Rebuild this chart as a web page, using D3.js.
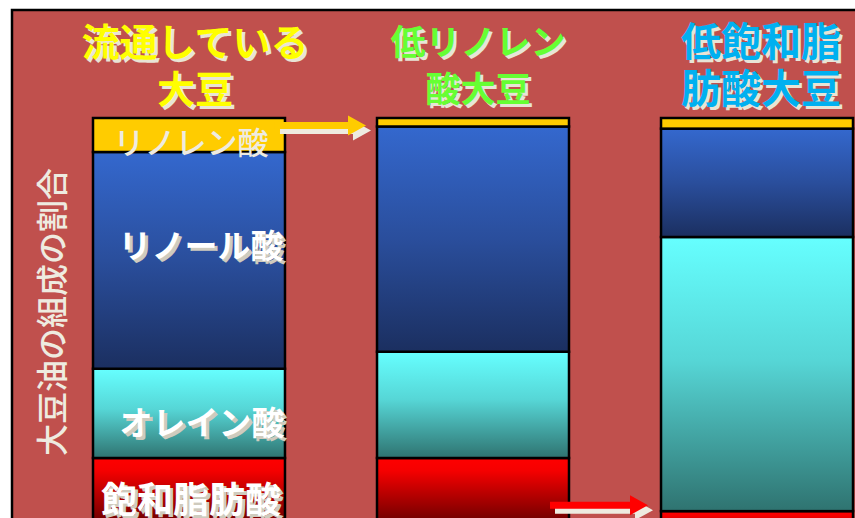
<!DOCTYPE html>
<html>
<head>
<meta charset="utf-8">
<script src="https://cdn.jsdelivr.net/npm/d3@7/dist/d3.min.js"></script>
<style>
  html, body { margin: 0; padding: 0; background: #ffffff; }
  svg { display: block; }
  text { font-family: "Noto Sans CJK JP", "Noto Sans", sans-serif; }
</style>
</head>
<body>
<svg id="chart" width="855" height="518"></svg>
<script>
// Soybean varieties (columns) and their title lines
const varieties = ["流通している大豆", "低リノレン酸大豆", "低飽和脂肪酸大豆"];
const titleLines = [["流通している", "大豆"], ["低リノレン", "酸大豆"], ["低飽和脂", "肪酸大豆"]];
const titleColors = ["#FFFF00", "#66FF33", "#00B0F0"];
const titleSizes = [38, 35, 40];

// Fatty acids, stacked from the bottom up
const acids = ["飽和脂肪酸", "オレイン酸", "リノール酸", "リノレン酸"];

// Composition (%) per variety, in the same order as `acids`
const saturated  = [20, 20, 7.5];
const oleic      = [21, 25, 64.5];
const linoleic   = [51, 53, 25.5];
const linolenic  = [8, 2, 2.5];

const yLabel = "大豆油の組成の割合";

const rows = varieties.map((v, i) => ({
  variety: v,
  "飽和脂肪酸": saturated[i],
  "オレイン酸": oleic[i],
  "リノール酸": linoleic[i],
  "リノレン酸": linolenic[i]
}));

const svg = d3.select("#chart");

// Panel background
svg.append("rect")
  .attr("x", 12).attr("y", 10)
  .attr("width", 860).attr("height", 530)
  .attr("fill", "#C0504D")
  .attr("stroke", "#000").attr("stroke-width", 2.5);

// Gradients for each fatty acid band
const defs = svg.append("defs");
const gradSpec = {
  "リノレン酸": [[0, "#FFCC00"], [1, "#FFCC00"]],
  "リノール酸": [[0, "#3468CE"], [0.5, "#2A4E9C"], [1, "#1B2F60"]],
  "オレイン酸": [[0, "#66FFFF"], [0.45, "#56D6D6"], [1, "#2F7370"]],
  "飽和脂肪酸": [[0, "#FF0000"], [0.15, "#F50000"], [0.7, "#7A0000"], [1, "#5A0000"]]
};
acids.forEach((a, i) => {
  const g = defs.append("linearGradient")
    .attr("id", "g" + i)
    .attr("x1", 0).attr("y1", 0).attr("x2", 0).attr("y2", 1);
  gradSpec[a].forEach(([o, c]) => g.append("stop").attr("offset", o).attr("stop-color", c));
});

// Scales
const x = d3.scaleBand().domain(varieties).range([93, 853]).paddingInner(0.324).paddingOuter(0);
const y = d3.scaleLinear().domain([0, 100]).range([543, 118]);

const stack = d3.stack().keys(acids)(rows);

// Stacked bars
const layers = svg.append("g").selectAll("g")
  .data(stack).join("g")
  .attr("fill", (d, i) => `url(#g${i})`);

layers.selectAll("rect")
  .data(d => d)
  .join("rect")
  .attr("x", d => x(d.data.variety))
  .attr("width", x.bandwidth())
  .attr("y", d => y(d[1]))
  .attr("height", d => y(d[0]) - y(d[1]))
  .attr("stroke", "#000")
  .attr("stroke-width", 2.5);

// Text with a soft offset shadow
function shadowText(g, txt, cx, cy, opts) {
  const s = g.append("g");
  const base = t => t.attr("x", cx).attr("y", cy)
    .attr("text-anchor", "middle").attr("dominant-baseline", "central")
    .attr("font-size", opts.size).attr("font-weight", opts.weight || 700)
    .text(txt);
  if (opts.shadow) {
    base(s.append("text")).attr("transform", `translate(${opts.off || 3},${opts.off || 3})`)
      .attr("fill", opts.shadow);
  }
  base(s.append("text")).attr("fill", opts.fill);
}

const labels = svg.append("g");

// Column titles
varieties.forEach((v, i) => {
  const cx = x(v) + x.bandwidth() / 2;
  const dx = [6, 5, 4][i];
  titleLines[i].forEach((line, j) => {
    shadowText(labels, line, cx + dx, [39, 86][j], {
      size: titleSizes[i], fill: titleColors[i], shadow: "#E8E4D6", off: 3
    });
  });
});

// Band labels on the first column
const first = varieties[0];
const bx = x(first) + x.bandwidth() / 2;
const row0 = stack.map(l => l[0]);
const mid = d => (y(d[0]) + y(d[1])) / 2;

// Linolenic label (regular weight, spills over the band)
labels.append("text")
  .attr("x", bx + 2).attr("y", mid(row0[3]) + 5)
  .attr("text-anchor", "middle").attr("dominant-baseline", "central")
  .attr("font-size", 31).attr("font-weight", 500)
  .attr("fill", "#EEEBE0")
  .text(acids[3]);

shadowText(labels, acids[2], bx + 12, mid(row0[2]) - 16, { size: 33, fill: "#FFFFFF", shadow: "#CFCBBE", off: 3 });
shadowText(labels, acids[1], bx + 13, mid(row0[1]) + 8, { size: 33, fill: "#FFFFFF", shadow: "#CFCBBE", off: 3 });
shadowText(labels, acids[0], bx + 2, y(row0[0][1]) + 39, { size: 36, fill: "#FFFFFF", shadow: "#CFCBBE", off: 3 });

// Y axis title
svg.append("text")
  .attr("transform", `translate(50, 312) rotate(-90)`)
  .attr("text-anchor", "middle").attr("dominant-baseline", "central")
  .attr("font-size", 32).attr("font-weight", 500).attr("fill", "#EEEBE0")
  .text(yLabel);

// Arrows pointing to the reduced fatty acid in each new variety
function arrow(x0, x1, yc, color) {
  const g = svg.append("g");
  const hl = 18, sw = 3.5, hw = 10;
  const d = `M${x0},${yc - sw} L${x1 - hl},${yc - sw} L${x1 - hl},${yc - hw} L${x1},${yc} ` +
            `L${x1 - hl},${yc + hw} L${x1 - hl},${yc + sw} L${x0},${yc + sw} Z`;
  g.append("path").attr("d", d).attr("fill", "#EEEBE0").attr("transform", "translate(5,5)");
  g.append("path").attr("d", d).attr("fill", color);
}
const x2 = x(varieties[1]), x3 = x(varieties[2]);
arrow(x(first) + x.bandwidth() - 10, x2 - 11, y(100 - linolenic[1]) - 1, "#FFCC00");
arrow(x2 + x.bandwidth() - 19, x3 - 13, y(saturated[2]) - 6, "#FF0000");
</script>
</body>
</html>
